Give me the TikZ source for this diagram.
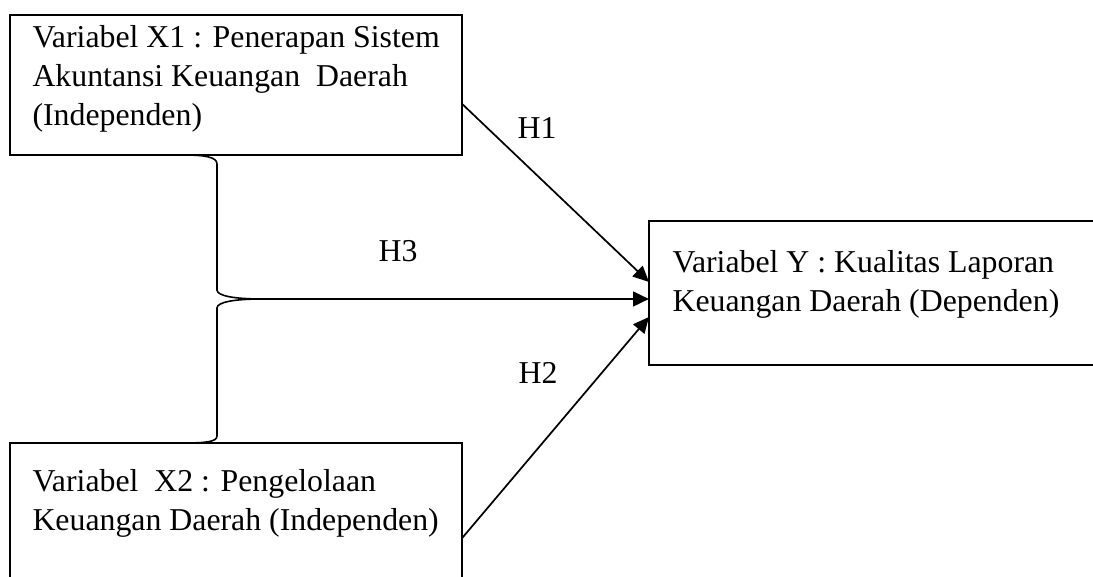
\documentclass[tikz,border=0pt]{standalone}
\usepackage{fontspec}
\setmainfont{Liberation Serif}
\usepackage{tikz}
\usetikzlibrary{arrows.meta,calc}

\begin{document}
\begin{tikzpicture}[
    x=0.01326cm, y=-0.01326cm,
    box/.style={draw, line width=0.9pt, outer sep=0pt, inner sep=0pt, anchor=north west},
    txt/.style={inner sep=0pt, anchor=base west, align=left, font=\fontsize{12}{14.72}\selectfont},
    lbl/.style={inner sep=0pt, font=\fontsize{12}{14.72}\selectfont},
    arr/.style={-{Triangle[length=6pt, width=5.5pt]}, line width=0.65pt}
]
    \useasboundingbox (0,0) rectangle (1093,577);
    \clip (0,0) rectangle (1093,577);
    \node[box, minimum width=170.6pt, minimum height=52.8pt] (x1) at (10,15) {};
    \node[box, minimum width=170.6pt, minimum height=75.5pt] (x2) at (10,443) {};
    \node[box, minimum width=188.7pt, minimum height=54.3pt] (y) at (649,221) {};
    \node[txt] (x1t) at ($(x1.north west)+(22,111)$) {Variabel X1 : Penerapan Sistem\\Akuntansi Keuangan\ \ Daerah\\(Independen)};
    \node[txt] (x2t) at ($(x2.north west)+(22,88)$) {Variabel\ \ X2 : Pengelolaan\\Keuangan Daerah (Independen)};
    \node[txt] (yt) at ($(y.north west)+(23,91)$) {Variabel Y : Kualitas Laporan\\Keuangan Daerah (Dependen)};
    \node[lbl] (h1) at (537,128) {H1};
    \node[lbl] (h3) at (398,251) {H3};
    \node[lbl] (h2) at (538,373) {H2};
    \coordinate (tip) at (262,299);
    \draw[line width=0.6pt] (183,155) .. controls (205,155) and (217,157) .. (217,164) -- (217,290)
        .. controls (217,296) and (235,299) .. (tip)
        .. controls (235,299) and (217,302) .. (217,308) -- (217,436)
        .. controls (217,442) and (205,443) .. (183,443);
    \draw[arr] ($(x1.north east)+(0,89)$) -- ($(y.north west)+(0,61)$);
    \draw[arr, line width=1pt] (tip) -- ($(y.north west)+(0,78)$);
    \draw[arr] ($(x2.north east)+(0,95)$) -- ($(y.north west)+(0,96)$);
\end{tikzpicture}
\end{document}
